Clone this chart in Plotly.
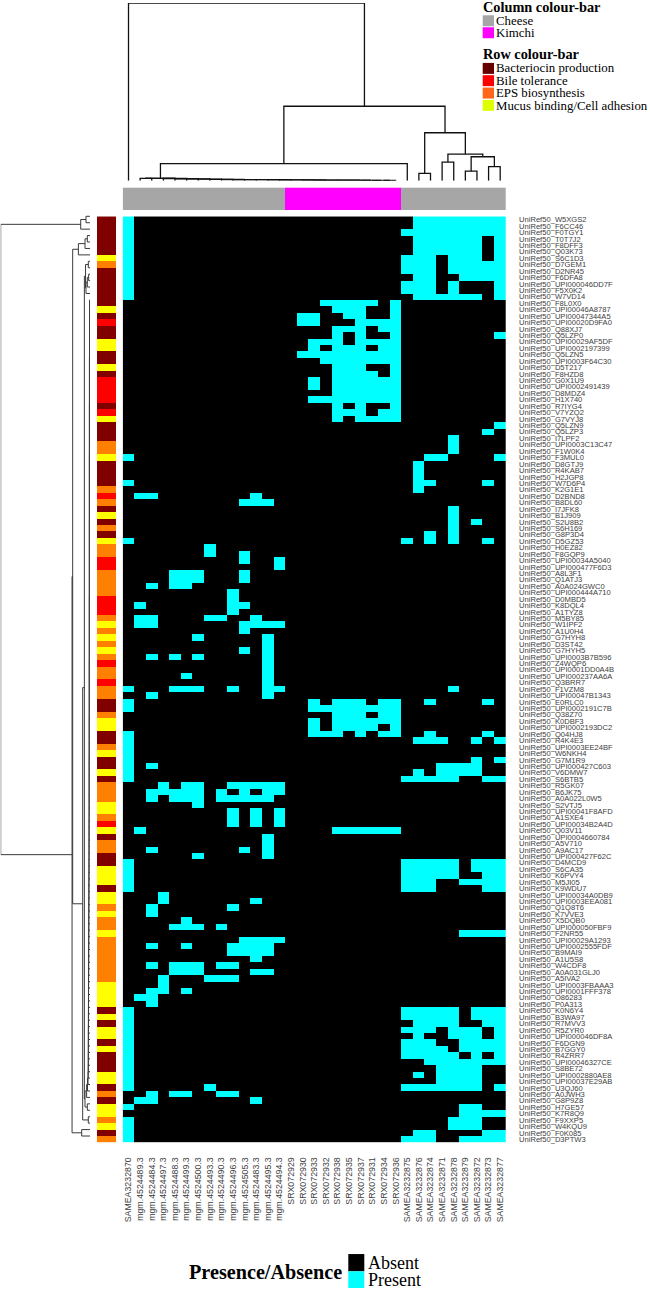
import plotly.graph_objects as go

WIDTH = 650
HEIGHT = 1290

# columns, in heatmap order
COL_LABELS = [
    'SAMEA3232870', 'mgm.4524489.3', 'mgm.4524484.3', 'mgm.4524497.3', 'mgm.4524488.3',
    'mgm.4524499.3', 'mgm.4524500.3', 'mgm.4524493.3', 'mgm.4524490.3', 'mgm.4524496.3',
    'mgm.4524505.3', 'mgm.4524483.3', 'mgm.4524495.3', 'mgm.4524494.3', 'SRX072929',
    'SRX072930', 'SRX072933', 'SRX072932', 'SRX072938', 'SRX072935', 'SRX072937',
    'SRX072931', 'SRX072934', 'SRX072936', 'SAMEA3232875', 'SAMEA3232876', 'SAMEA3232874',
    'SAMEA3232871', 'SAMEA3232878', 'SAMEA3232879', 'SAMEA3232872', 'SAMEA3232873',
    'SAMEA3232877',
]
COL_GROUP = [0] * 14 + [1] * 10 + [0] * 9  # 0 cheese, 1 kimchi

# rows, top to bottom
ROW_IDS = [
    'W5XGS2', 'F6CC46', 'F0TGY1', 'T0T7J2', 'F8DFF3', 'Q03K73', 'S6C1D3', 'D7GEM1',
    'D2NR45', 'F6DFA8', 'UPI000046DD7F', 'F5X0K2', 'W7VD14', 'F8L0X0', 'UPI00046A8787',
    'UPI00047344A5', 'UPI00020D9FA0', 'Q88XJ7', 'Q5LZP0', 'UPI00029AF5DF', 'UPI0002197399',
    'Q5LZN5', 'UPI0003F64C30', 'D5T217', 'F8HZD8', 'G0X1U9', 'UPI0002491439', 'D8MDZ4',
    'H1X740', 'R7IYG4', 'V7YZQ2', 'G7VYJ8', 'Q5LZN9', 'Q5LZP3', 'I7LPF2', 'UPI0003C13C47',
    'F1W0K4', 'F3MUL0', 'D8GTJ9', 'R4KAB7', 'H2JGP8', 'W7D6P4', 'K2G1E1', 'D2BND8',
    'B8DL60', 'I7JFK8', 'B1J909', 'S2U8B2', 'S6H169', 'G8P3D4', 'D5GZ53', 'H0EZ82',
    'F8GQP9', 'UPI00034A5040', 'UPI000477F6D3', 'A8L3F1', 'Q1ATJ3', 'A0A024GWC0',
    'UPI000444A710', 'D0MBD5', 'K8DQL4', 'A1TYZ8', 'M5BY85', 'W1IPF2', 'A1U0H4', 'G7HYH8',
    'D3ST42', 'G7HYH5', 'UPI0003B7B596', 'Z4WQP6', 'UPI0001DD0A4B', 'UPI000237AA6A',
    'Q3BRR7', 'F1VZM8', 'UPI00047B1343', 'E0RLC0', 'UPI0002191C7B', 'Q38Z70', 'K0DBF3',
    'UPI0002193DC2', 'Q04HJ8', 'R4K4E3', 'UPI0003EE24BF', 'W6NKH4', 'G7M1R9',
    'UPI000427C603', 'V6DMW7', 'S6BTB5', 'R5GK07', 'B6JK75', 'A0A022L0W5', 'S2VTJ5',
    'UPI00041F8AFD', 'A1SXE4', 'UPI00034B2A4D', 'Q03V11', 'UPI0004660784', 'A5V710',
    'A9AC17', 'UPI000427F62C', 'D4MCD9', 'S6CA35', 'K6PVY4', 'M5JI05', 'K9WDU7',
    'UPI00034A0DB9', 'UPI0003EEA081', 'Q1Q8T6', 'K7VVE3', 'X5DQB0', 'UPI000050FBF9',
    'F2NR55', 'UPI00029A1293', 'UPI0002555FDF', 'B9MAI9', 'A1U5S8', 'W4CDF8', 'A0A031GLJ0',
    'A5IVA2', 'UPI0003FBAAA3', 'UPI0001FFF378', 'O86283', 'P0A313', 'K0N6Y4', 'B3WA97',
    'R7MVV3', 'R5ZYR0', 'UPI000046DF8A', 'F6DGN9', 'B7GGY0', 'R4ZRR7', 'UPI00046327CE',
    'S8BE72', 'UPI0002880AE8', 'UPI00037E29AB', 'U3QJ60', 'A0JWH3', 'G8P9Z8', 'H7GE57',
    'K7R8Q9', 'F9XXP5', 'W4KQU9', 'F0K085', 'D3PTW3',
]

# D bacteriocin, R bile, O EPS, Y mucus
ROW_GROUP = (
    'DDDDDD Y O DDDDDD Y D R DD YY DD Y D RRRR D R Y DDD OO Y DDDD O R O D Y D O D Y OO RR '
    'OOOO RRR O Y O Y O Y O R OO R OO DD O YY DD O Y DD Y D OOO YY O R Y D OO DD YYY D YY '
    'O Y OO Y OOOOOOO YYYY D Y D YY D Y DDD YY D O D YY O Y D O'
).replace(' ', '')

# present columns for each row
ROW_PRESENT = [
    '0 25-32', '0 25-32', '0 24-32', '0 25-30 32', '0 25-30 32', '0 25-30 32',
    '0 24-26 28-30 32', '0 24-26 28-32', '0 24-26 28-32', '0 25-26 29-32', '0 24-26 28 32',
    '0 24-26 28 32', '0 25-30 32', '17-21 23', '18-20 23', '15-16 19-20 23', '15-16 20-23',
    '18-20 22-23', '18 20 23 32', '16-18 20-23', '16 18-20 22-23', '15-23', '17-23',
    '18-20 23', '18-21 23', '16 18-23', '16 18-23', '18-23', '16-23', '18 20 23',
    '18-20 22-23', '18 20-23', '32', '31', '28', '28', '28', '0 26-27 32', '25', '25', '25',
    '0 25-26 31', '25', '1-2 11', '10-12', '28', '28', '28 30', '28', '26 28',
    '0 24 26 28 31', '7', '7 10', '10 13', '13', '4-6 10', '4-6 10', '2 4-5', '9', '9',
    '1 9-10', '9', '1-2 7-8 11', '1-2 10-13', '10', '6 12', '12', '10 12', '2 4 6 12', '12',
    '12', '5 12', '12', '0 4-6 9 12-13 28', '2 12', '0 16 18-20 22-23 26 31', '0 16-23',
    '18-20 22-23', '16 18-23', '16 18-21 23', '0 16-18 20 22-23 26 31', '0 25-27 30 32',
    '0', '0', '0 30 32', '0 2 27-30', '0 25 27-30', '0 24-28 31-32', '3 5-6 9-13',
    '2-6 8 10 12-13', '2 4-6 8-12', '6', '9 11 13', '9 11 13', '9 11 13', '1 18-23', '12',
    '12', '2 10 12', '6 12', '0 24-28 30-32', '0 24-28 30-32', '0 24-28 31-32',
    '0 24-26 29-32', '0 24-26 31-32', '3', '3 11', '2 9', '2', '5', '4-6 8', '29-32',
    '10-13', '2 5 9-12', '9-12', '11', '2 4-6 8-9', '4-6 11-12', '3 7-9', '3', '2-3 5',
    '1-2', '2', '0 24-28 30-32', '0 24-28 30-32', '0 25-28 31-32', '0 24-26 28-30 32',
    '0 25 28-30 32', '0 24-26 29-32', '0 24-27 29-32', '0 24-28 30 32', '0 26-32',
    '0 27-30', '0 25 27-30', '0 27-30', '0 7 24-30 32', '2 4-5 8-9', '1-2 11', '0 29-30',
    '29-32', '0 28-30', '0 28-30', '0 25-26 31-32', '0 24-26 29-32',
]

# dendrogram merges: (name, left, right, height), int = leaf index, str = earlier merge
COL_CHAIN_HEIGHTS = [0.2, 0.25, 0.25, 0.3, 0.3, 0.35, 0.35, 0.4, 0.45, 0.5,
                     0.55, 0.6, 0.6, 0.65, 0.7, 0.8, 0.9, 1.0, 1.1, 1.25]
COL_LINKS = [
    ('a', 1, 2, 1.3),
    ('k', 'j3', 'a', 1.4),
    ('m', 'k', 24, 9.6),
    ('n', 25, 26, 4.1),
    ('o', 27, 28, 10.5),
    ('p', 29, 30, 5.4),
    ('q', 31, 32, 7.9),
    ('r', 'p', 'q', 13.5),
    ('s', 'o', 'r', 15.0),
    ('t', 'n', 's', 27.0),
    ('u', 'm', 't', 41.9),
    ('root', 0, 'u', 100.0),
]

ROW_CHAIN_HEIGHTS = [
    0.45, 0.45, 0.5, 0.5, 0.5, 0.55, 0.55, 0.55, 0.55, 0.6, 0.6, 0.6, 0.6, 0.6, 0.6, 0.6,
    0.65, 0.65, 0.65, 0.65, 0.65, 0.65, 0.65, 0.65, 0.7, 0.7, 0.7, 0.7, 0.7, 0.7, 0.7, 0.7,
    0.7, 0.7, 0.75, 0.75, 0.75, 0.75, 0.75, 0.75, 0.75, 0.75, 0.75, 0.75, 0.75, 0.75, 0.8,
    0.8, 0.8, 0.8, 0.8, 0.8, 0.8, 0.8, 0.8, 0.8, 0.85, 0.85, 0.85, 0.85, 0.85, 0.85, 0.85,
    0.85, 0.85, 0.9, 0.9, 0.9, 0.9, 0.9, 0.9, 0.95, 0.95, 0.95, 0.95, 0.95, 1.0, 1.0, 1.0,
    1.0, 1.0, 1.05, 1.05, 1.05, 1.1, 1.1, 1.1, 1.15, 1.15, 1.2, 1.2, 1.25, 1.25, 1.3, 1.3,
    1.35, 1.35, 1.4, 1.4, 1.45, 1.45, 1.5, 1.5, 1.55, 1.55, 1.6, 1.6, 1.65, 1.65, 1.7, 1.7,
    1.75, 1.75, 1.8, 1.8, 1.85, 1.85, 1.9, 1.9, 1.95, 2.0,
]
ROW_LINKS = [
    ('a0', 0, 1, 4.5),
    ('a', 'a0', 2, 10.4),
    ('c0', 3, 4, 3.0),
    ('c1', 'c0', 5, 5.6),
    ('c', 'c1', 6, 13.0),
    ('g0', 7, 8, 1.9),
    ('g1', 9, 10, 1.5),
    ('g2', 'g1', 11, 3.0),
    ('g3', 'g2', 12, 4.5),
    ('g', 'g0', 'g3', 5.0),
    ('h0', 'z120', 135, 2.2),
    ('h1', 'h0', 136, 2.8),
    ('h2', 'h1', 137, 3.8),
    ('h3', 138, 139, 3.0),
    ('h', 'h2', 'h3', 5.6),
    ('f', 'g', 'h', 6.3),
    ('e0', 140, 141, 1.9),
    ('e', 'f', 'e0', 8.2),
    ('cc', 'c', 'e', 19.4),
    ('d', 142, 143, 9.3),
    ('b', 'cc', 'd', 20.1),
    ('root', 'a', 'b', 100.0),
]

COL_GROUP_COLORS = ['#a6a6a6', '#ff00ff']
ROW_GROUP_COLORS = {'D': '#800000', 'R': '#ff0000', 'O': '#ff8000', 'Y': '#ffff00'}
ROW_GROUP_ORDER = 'DROY'


def parse_present(spec):
    cols = []
    for part in spec.split():
        if '-' in part:
            lo, hi = part.split('-')
            cols.extend(range(int(lo), int(hi) + 1))
        else:
            cols.append(int(part))
    return cols


def dendro_lines(n_leaves, links):
    """Walk the merges and return the U shapes as (position, height) lines."""
    pos = {i: float(i) for i in range(n_leaves)}
    hgt = {i: 0.0 for i in range(n_leaves)}
    line_pos, line_hgt = [], []
    for name, left, right, h in links:
        line_pos += [pos[left], pos[left], pos[right], pos[right], None]
        line_hgt += [hgt[left], h, h, hgt[right], None]
        pos[name] = (pos[left] + pos[right]) / 2
        hgt[name] = h
    return line_pos, line_hgt


def discrete_scale(colors):
    n = len(colors)
    scale = []
    for i, c in enumerate(colors):
        scale += [[i / n, c], [(i + 1) / n, c]]
    return scale


def hdom(left, right):
    return [left / WIDTH, right / WIDTH]


def vdom(top, bottom):
    return [1 - bottom / HEIGHT, 1 - top / HEIGHT]


# the column tree is a chain from the last kimchi sample back to column 3
col_chain = [('j22', 22, 23, COL_CHAIN_HEIGHTS[0])]
for i, leaf in enumerate(range(21, 2, -1)):
    col_chain.append((f'j{leaf}', leaf, f'j{leaf + 1}', COL_CHAIN_HEIGHTS[i + 1]))

# the row tree is a chain running down from row 14
row_chain = [('z0', 13, 14, ROW_CHAIN_HEIGHTS[0])]
for i, leaf in enumerate(range(15, 135)):
    row_chain.append((f'z{i + 1}', f'z{i}', leaf, ROW_CHAIN_HEIGHTS[i + 1]))

z_present = [[0] * len(COL_LABELS) for _ in ROW_IDS]
for r, spec in enumerate(ROW_PRESENT):
    for c in parse_present(spec):
        z_present[r][c] = 1

row_labels = [f'UniRef50_{name}' for name in ROW_IDS]
row_group_z = [[ROW_GROUP_ORDER.index(code)] for code in ROW_GROUP]
col_dx, col_dy = dendro_lines(len(COL_LABELS), col_chain + COL_LINKS)
row_dy, row_dx = dendro_lines(len(ROW_IDS), row_chain + ROW_LINKS)

fig = go.Figure()

fig.add_trace(go.Heatmap(
    z=z_present, x=list(range(len(COL_LABELS))), y=list(range(len(ROW_IDS))),
    colorscale=[[0, '#000000'], [0.5, '#000000'], [0.5, '#00ffff'], [1, '#00ffff']],
    zmin=0, zmax=1, showscale=False, hoverinfo='skip', xaxis='x', yaxis='y'
))
fig.add_trace(go.Scatter(
    x=col_dx, y=col_dy, mode='lines', line=dict(color='#111111', width=1.3),
    hoverinfo='skip', showlegend=False, xaxis='x2', yaxis='y2', cliponaxis=False
))
fig.add_trace(go.Scatter(
    x=row_dx, y=row_dy, mode='lines', line=dict(color='#3a3a3a', width=1),
    hoverinfo='skip', showlegend=False, xaxis='x3', yaxis='y3', cliponaxis=False
))
fig.add_trace(go.Heatmap(
    z=row_group_z, x=[0], y=list(range(len(ROW_IDS))),
    colorscale=discrete_scale([ROW_GROUP_COLORS[k] for k in ROW_GROUP_ORDER]),
    zmin=0, zmax=4, showscale=False, hoverinfo='skip', xaxis='x4', yaxis='y4'
))
fig.add_trace(go.Heatmap(
    z=[COL_GROUP], x=list(range(len(COL_LABELS))), y=[0],
    colorscale=discrete_scale(COL_GROUP_COLORS),
    zmin=0, zmax=2, showscale=False, hoverinfo='skip', xaxis='x5', yaxis='y5'
))

hidden = dict(visible=False, showgrid=False, zeroline=False)
col_range = [-0.5, len(COL_LABELS) - 0.5]
row_range = [len(ROW_IDS) - 0.5, -0.5]

fig.update_layout(
    width=WIDTH, height=HEIGHT, autosize=False,
    margin=dict(l=0, r=0, t=0, b=0),
    paper_bgcolor='white', plot_bgcolor='white', showlegend=False,
    xaxis=dict(
        domain=hdom(122.7, 506), range=col_range, anchor='y', showgrid=False, zeroline=False,
        tickmode='array', tickvals=list(range(len(COL_LABELS))), ticktext=COL_LABELS,
        tickangle=-90, ticks='', ticklabelstandoff=12,
        tickfont=dict(family='Liberation Sans', size=8.8, color='#404040')
    ),
    yaxis=dict(
        domain=vdom(215.7, 1143.3), range=row_range, anchor='x', side='right',
        showgrid=False, zeroline=False,
        tickmode='array', tickvals=list(range(len(ROW_IDS))), ticktext=row_labels,
        ticks='', ticklabelstandoff=12,
        tickfont=dict(family='Liberation Sans', size=7.6, color='#404040')
    ),
    xaxis2=dict(domain=hdom(122.7, 506), range=col_range, anchor='y2', **hidden),
    yaxis2=dict(domain=vdom(2, 180), range=[0, 100], anchor='x2', **hidden),
    xaxis3=dict(domain=hdom(0.7, 90), range=[100, 0], anchor='y3', **hidden),
    yaxis3=dict(domain=vdom(212.4, 1140), range=row_range, anchor='x3', **hidden),
    xaxis4=dict(domain=hdom(97, 116.3), range=[-0.5, 0.5], anchor='y4', **hidden),
    yaxis4=dict(domain=vdom(215.7, 1143.3), range=row_range, anchor='x4', **hidden),
    xaxis5=dict(domain=hdom(122.7, 506), range=col_range, anchor='y5', **hidden),
    yaxis5=dict(domain=vdom(186.7, 209.3), range=[-0.5, 0.5], anchor='x5', **hidden),
)


def add_swatch(left, top, right, bottom, color):
    fig.add_shape(type='rect', xref='paper', yref='paper',
                  x0=left / WIDTH, x1=right / WIDTH,
                  y0=1 - bottom / HEIGHT, y1=1 - top / HEIGHT,
                  fillcolor=color, line=dict(width=0))


def add_text(left, y_mid, text, size, bold=False):
    label = f'<b>{text}</b>' if bold else text
    fig.add_annotation(xref='paper', yref='paper', x=left / WIDTH, y=1 - y_mid / HEIGHT,
                       text=label, showarrow=False, xanchor='left', yanchor='middle',
                       borderpad=0, font=dict(family='Liberation Serif', size=size, color='black'))


add_text(481.7, 6, 'Column colour-bar', 14.3, bold=True)
add_swatch(482.7, 14.3, 494, 25.3, '#a6a6a6')
add_text(495, 20, 'Cheese', 12.85)
add_swatch(482.7, 26.3, 494, 37.3, '#ff00ff')
add_text(495, 32.5, 'Kimchi', 12.85)

add_text(481.7, 53.3, 'Row colour-bar', 14.3, bold=True)
add_swatch(482.7, 62, 494, 73, '#660000')
add_text(495, 67.5, 'Bacteriocin production', 12.85)
add_swatch(482.7, 74.3, 494, 85.3, '#ff0000')
add_text(495, 80, 'Bile tolerance', 12.85)
add_swatch(482.7, 86.7, 494, 97.7, '#ff6619')
add_text(495, 92.5, 'EPS biosynthesis', 12.85)
add_swatch(482.7, 99, 494, 110, '#ddff00')
add_text(495, 105, 'Mucus binding/Cell adhesion', 12.85)

add_text(188.3, 1272.7, 'Presence/Absence', 20.2, bold=True)
add_swatch(348.3, 1255, 364.3, 1272.3, '#000000')
add_swatch(348.3, 1272.3, 364.3, 1289, '#00ffff')
add_text(367.3, 1264, 'Absent', 18)
add_text(367.3, 1281.3, 'Present', 18)

fig.write_html("out.html", post_script="document.body.style.margin='0';",
               config={'displayModeBar': False})
